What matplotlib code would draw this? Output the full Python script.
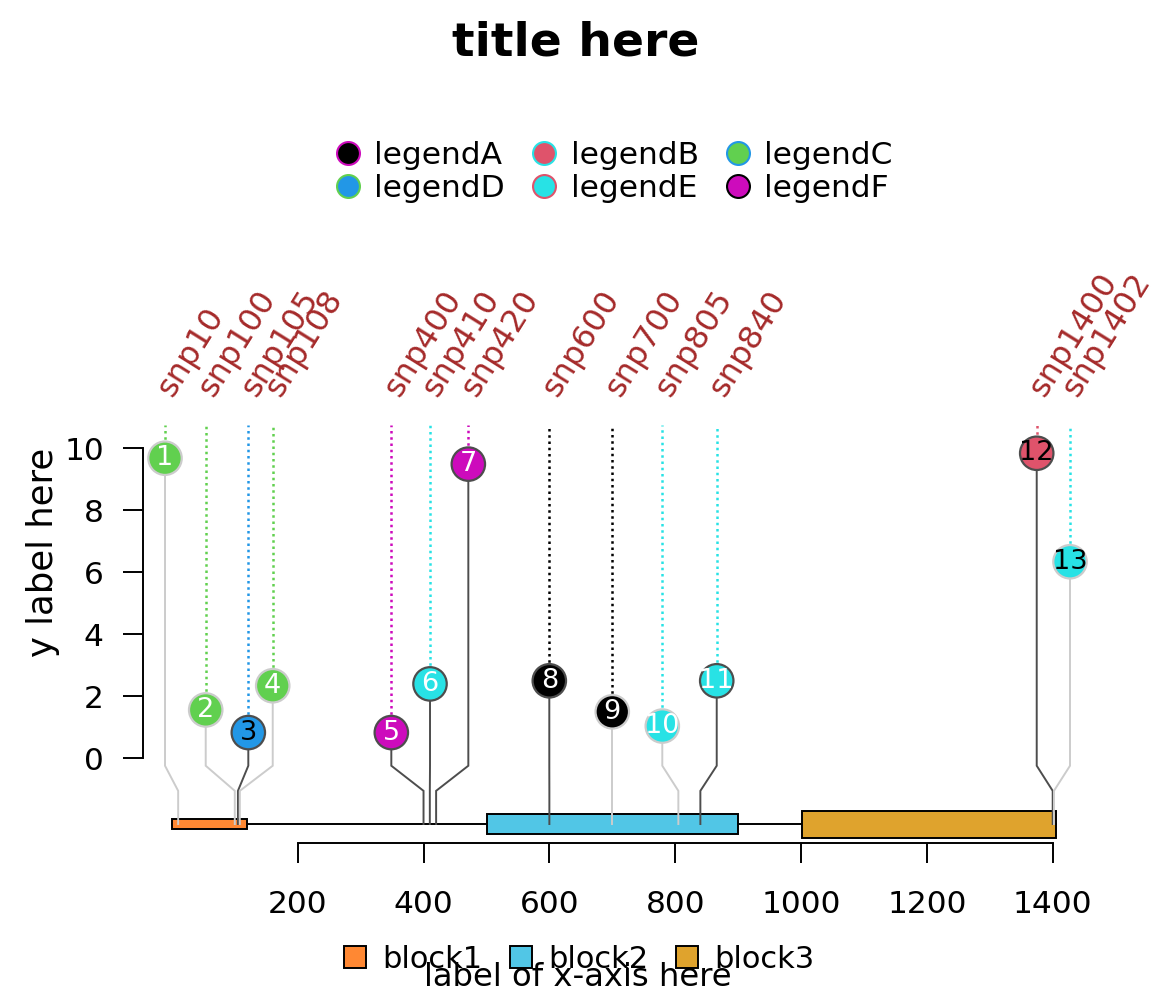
import matplotlib
matplotlib.use("Agg")
import matplotlib.pyplot as plt
from matplotlib.lines import Line2D

# --- data ---
snp_names = ["snp10", "snp100", "snp105", "snp108", "snp400", "snp410", "snp420",
             "snp600", "snp700", "snp805", "snp840", "snp1400", "snp1402"]
snp_pos = [10, 100, 105, 108, 400, 410, 420, 600, 700, 805, 840, 1400, 1402]
# where the balls sit after spreading them apart
ball_x = [-10.9, 53.8, 121.5, 160.3, 348.8, 410.3, 471.2, 599.9, 700.0, 779.5,
          866.0, 1374.6, 1427.5]
scores = [9.68, 1.56, 0.83, 2.34, 0.83, 2.40, 9.49, 2.50, 1.50, 1.04, 2.50, 9.84, 6.34]

GREEN, BLUE, MAG, CYAN, RED = "#61D04F", "#2297E6", "#CD0BBC", "#28E2E5", "#DF536B"
DARK, LIGHT = "#4D4D4D", "#CCCCCC"
ball_fill = [GREEN, GREEN, BLUE, GREEN, MAG, CYAN, MAG, "black", "black", CYAN,
             CYAN, RED, CYAN]
ball_edge = [LIGHT, LIGHT, DARK, LIGHT, DARK, DARK, DARK, DARK, LIGHT, LIGHT,
             DARK, DARK, LIGHT]
num_color = ["white", "white", "black", "white", "white", "white", "white",
             "white", "white", "white", "white", "black", "black"]

block_names = ["block1", "block2", "block3"]
block_start = [1, 501, 1001]
block_end = [120, 900, 1405]
block_height = [0.345, 0.635, 0.87]
block_fill = ["#FF8833", "#51C6E6", "#DFA32D"]

legend_names = ["legendA", "legendB", "legendC", "legendD", "legendE", "legendF"]
legend_fill = ["black", RED, GREEN, BLUE, CYAN, MAG]
legend_edge = [MAG, CYAN, BLUE, GREEN, RED, "black"]

W, H = 1152, 998
fig = plt.figure(figsize=(W / 100, H / 100), dpi=100)
ax = fig.add_axes([0, 0, 1, 1])

# pixel mapping of the reference: x 200 -> 297.7px, 1400 -> 1052.7px ; y 0 -> 758.3px, 10 -> 448.3px
sx = (1052.7 - 297.7) / 1200
sy = 31.0
ax.set_xlim(200 - 297.7 / sx, 200 + (W - 297.7) / sx)
ax.set_ylim((758.3 - H) / sy, 758.3 / sy)

track_y = -2.12
bend_hi, bend_lo = -0.24, -1.05
dot_top = 10.75

# gene track
ax.plot([block_start[0], block_end[-1]], [track_y, track_y], color="black", lw=1.4, zorder=1)
for s, e, h, c in zip(block_start, block_end, block_height, block_fill):
    ax.bar(s, h, width=e - s, bottom=track_y - h / 2, align="edge", color=c,
           edgecolor="black", linewidth=1.4, zorder=2)

# stems, dotted lines, balls
for i in range(len(snp_pos)):
    bx, p, y = ball_x[i], snp_pos[i], scores[i]
    ax.plot([bx, bx, p, p], [y, bend_hi, bend_lo, track_y], color=ball_edge[i],
            lw=1.4, zorder=3, solid_joinstyle="miter")
    ax.plot([bx, bx], [y, dot_top], color=ball_fill[i], lw=1.8,
            linestyle=(0, (1, 1.5)), zorder=3)
    ax.text(bx + 12, 11.62, snp_names[i], rotation=58, rotation_mode="anchor",
            ha="left", va="baseline", color="#A52A2A", fontsize=23)
    ax.text(bx, y, str(i + 1), ha="center", va="center", color=num_color[i],
            fontsize=19.5, zorder=6)

ax.scatter(ball_x, scores, s=580, c=ball_fill, edgecolors=ball_edge,
           linewidths=1.6, zorder=5)

# axes
for side in ["top", "right"]:
    ax.spines[side].set_visible(False)
ax.spines["left"].set_position(("data", 200 + (143.3 - 297.7) / sx))
ax.spines["left"].set_bounds(0, 10)
ax.spines["bottom"].set_position(("data", (758.3 - 843.3) / sy))
ax.spines["bottom"].set_bounds(200, 1400)
for side in ["left", "bottom"]:
    ax.spines[side].set_linewidth(1.4)
ax.set_xticks(range(200, 1401, 200))
ax.set_yticks(range(0, 11, 2))
ax.tick_params(axis="both", direction="out", length=14.4, width=1.4, labelsize=22.5)
ax.tick_params(axis="x", pad=19)
ax.tick_params(axis="y", pad=14)

fig.text(0.5, 1 - 55 / H, "title here", ha="center", va="baseline",
         fontsize=34, fontweight="bold")
fig.text(43 / W, 1 - 552 / H, "y label here", rotation=90, ha="center",
         va="center", fontsize=25.5)
fig.text(577.5 / W, 1 - 978 / H, "label of x-axis here", ha="center",
         va="center", fontsize=23.2)

# legends
order = [0, 3, 1, 4, 2, 5]
handles = [Line2D([], [], marker="o", linestyle="", markersize=16.5,
                  markerfacecolor=legend_fill[k], markeredgecolor=legend_edge[k],
                  markeredgewidth=1.5, label=legend_names[k]) for k in order]
leg1 = ax.legend(handles=handles, loc="center", bbox_to_anchor=(614 / W, 1 - 172 / H),
                 bbox_transform=fig.transFigure, ncol=3, frameon=False, fontsize=22.5,
                 handlelength=0.8, handletextpad=0.45, columnspacing=0.85,
                 labelspacing=0.15)
ax.add_artist(leg1)

bhandles = [Line2D([], [], marker="s", linestyle="", markersize=15.8,
                   markerfacecolor=block_fill[k], markeredgecolor="black",
                   markeredgewidth=1.4, label=block_names[k]) for k in range(3)]
ax.legend(handles=bhandles, loc="center", bbox_to_anchor=(578.7 / W, 1 - 959 / H),
          bbox_transform=fig.transFigure, ncol=3, frameon=False, fontsize=22,
          handlelength=0.8, handletextpad=0.48, columnspacing=0.88)

fig.savefig("out.png", dpi=100, facecolor="white")
